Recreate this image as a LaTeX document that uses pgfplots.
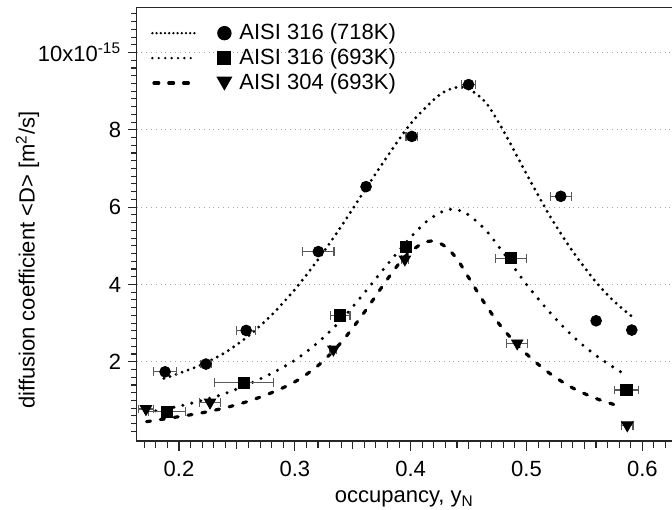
\documentclass[border=0pt]{standalone}
\usepackage{fontspec}
\setmainfont{Liberation Sans}
\usepackage{pgfplots}
\pgfplotsset{compat=1.18}
\usepackage{pgfplotstable}

\pgfplotstableread{
x y ex
0.188 1.74 0.010
0.2233 1.94 0.005
0.258 2.81 0.008
0.3203 4.85 0.0135
0.3615 6.53 0.003
0.401 7.83 0.005
0.4500 9.17 0.006
0.5296 6.28 0.009
0.5601 3.06 0
0.5909 2.82 0
}\circdata

\pgfplotstableread{
x y ex
0.1894 0.71 0.016
0.2563 1.46 0.0255
0.3391 3.20 0.0086
0.3960 4.97 0.003
0.4864 4.68 0.0134
0.5863 1.27 0.0105
}\sqdata

\pgfplotstableread{
x y ex
0.1715 0.78 0.0065
0.2268 0.95 0.009
0.3333 2.32 0.003
0.3950 4.65 0.003
0.4920 2.48 0.009
0.5870 0.36 0.005
}\tridata

\tikzset{
  cA/.style={line width=1.6pt, line cap=round, dash pattern=on 0pt off 3.2pt},
  cB/.style={line width=1.7pt, line cap=round, dash pattern=on 0pt off 4.6pt},
  cC/.style={line width=1.6pt, line cap=round, dash pattern=on 2pt off 5pt},
  tk/.style={black!85, line width=0.55pt, solid},
}

\begin{document}
\begin{tikzpicture}
\begin{axis}[
  scale only axis, width=267.65pt, height=216.85pt,
  xmin=0.1635, xmax=0.6256, ymin=-0.05, ymax=11.17,
  clip=false,
  axis line style={draw=none},
  xtick pos=bottom, ytick pos=left,
  tick align=outside,
  xtick={0.2,0.3,0.4,0.5,0.6}, xticklabels={0.2,0.3,0.4,0.5,0.6},
  ytick={2,4,6,8,10}, yticklabels={2,4,6,8,{10x10\textsuperscript{-15}}},
  every major tick/.append style={draw=none},
  every minor tick/.append style={draw=none},
  ymajorgrids, major grid style={dotted, black!35, line width=0.5pt},
  tick label style={font=\fontsize{11}{13}\selectfont},
  xticklabel style={yshift=-2.5pt},
  label style={font=\fontsize{11}{13}\selectfont},
  xlabel={occupancy, y\textsubscript{N}},
  ylabel={diffusion coefficient <D> [m\textsuperscript{2}/s]},
  ylabel style={at={(ticklabel cs:0.417)}, yshift=-7.5pt},
  legend style={draw=none, fill=none, at={(rel axis cs:0,1)}, anchor=north west,
    xshift=4pt, yshift=-5.5pt, font=\fontsize{11}{13}\selectfont, row sep=2pt,
    nodes={inner xsep=3.5pt, inner ysep=0.5pt}},
  legend cell align=left,
]
\addplot[cA, smooth, legend image code/.code={\draw[line width=1.3pt, line cap=round, dash pattern=on 0pt off 2.1pt] (0pt,0pt) -- (22pt,0pt); \fill[solid, draw=none] (36pt,0pt) circle (3.6pt);}]
 coordinates {(0.187,1.57)(0.20,1.70)(0.22,1.93)(0.24,2.24)(0.26,2.67)(0.28,3.21)(0.30,3.87)(0.32,4.64)(0.34,5.50)(0.36,6.42)(0.38,7.32)(0.40,8.16)(0.42,8.78)(0.43,9.00)(0.44,9.10)(0.45,9.06)(0.465,8.70)(0.48,7.98)(0.50,6.86)(0.52,5.78)(0.54,4.85)(0.56,4.06)(0.575,3.58)(0.591,3.17)};
\addlegendentry{AISI 316 (718K)}
\addplot[cB, smooth, legend image code/.code={\draw[line width=1.3pt, line cap=round, dash pattern=on 0pt off 3.2pt] (0pt,0pt) -- (22pt,0pt); \fill[solid, draw=none] (32.5pt,-3.5pt) rectangle (39.5pt,3.5pt);}]
 coordinates {(0.18,0.73)(0.20,0.85)(0.22,1.00)(0.24,1.18)(0.26,1.42)(0.28,1.70)(0.30,2.04)(0.32,2.50)(0.34,3.08)(0.36,3.78)(0.38,4.52)(0.40,5.22)(0.415,5.66)(0.43,5.92)(0.44,5.93)(0.45,5.80)(0.465,5.40)(0.48,4.82)(0.50,4.00)(0.52,3.28)(0.54,2.66)(0.56,2.16)(0.5823,1.72)};
\addlegendentry{AISI 316 (693K)}
\addplot[cC, smooth, legend image code/.code={\draw[line width=1.6pt, line cap=round, dash pattern=on 2.4pt off 5pt] (0.8pt,0pt) -- (22pt,0pt); \fill[solid, draw=none] (32pt,3.2pt) -- (40pt,3.2pt) -- (36pt,-3.8pt) -- cycle;}]
 coordinates {(0.172,0.45)(0.20,0.58)(0.22,0.68)(0.24,0.81)(0.26,0.98)(0.28,1.20)(0.30,1.48)(0.32,1.90)(0.34,2.50)(0.36,3.28)(0.38,4.14)(0.395,4.72)(0.41,5.06)(0.42,5.12)(0.43,4.98)(0.44,4.66)(0.45,4.18)(0.465,3.46)(0.48,2.84)(0.50,2.20)(0.52,1.70)(0.54,1.32)(0.56,1.05)(0.578,0.87)};
\addlegendentry{AISI 304 (693K)}

\pgfplotsset{ebar/.style={
  error bars/.cd, x dir=both, x explicit, error mark=|,
  error bar style={line width=0.6pt, black!65, solid},
  error mark options={line width=0.6pt, black!65, mark size=2.2pt, solid}}}
\addplot[only marks, black, forget plot, mark=*, mark size=2.7pt, ebar] table[x=x, y=y, x error=ex] {\circdata};
\addplot[only marks, black, forget plot, mark=square*, mark size=2.8pt, ebar] table[x=x, y=y, x error=ex] {\sqdata};
\addplot[only marks, black, forget plot, mark=triangle*, mark size=3.3pt, mark options={rotate=180}, ebar] table[x=x, y=y, x error=ex] {\tridata};

% axis ticks
\pgfplotsinvokeforeach{0.17,0.18,0.19,0.21,0.22,0.23,0.24,0.26,0.27,0.28,0.29,0.31,0.32,0.33,0.34,0.36,0.37,0.38,0.39,0.41,0.42,0.43,0.44,0.46,0.47,0.48,0.49,0.51,0.52,0.53,0.54,0.56,0.57,0.58,0.59,0.61,0.62}{
  \draw[tk] (axis cs:#1,-0.05) -- ++(0pt,-3.5pt);}
\pgfplotsinvokeforeach{0.25,0.35,0.45,0.55}{
  \draw[tk] (axis cs:#1,-0.05) -- ++(0pt,-4.2pt);}
\pgfplotsinvokeforeach{0.2,0.3,0.4,0.5,0.6}{
  \draw[tk] (axis cs:#1,-0.05) -- ++(0pt,-5pt);}
\pgfplotsinvokeforeach{0.2,0.4,0.6,0.8,1.0,1.2,1.4,1.6,1.8,2.2,2.4,2.6,2.8,3.0,3.2,3.4,3.6,3.8,4.2,4.4,4.6,4.8,5.0,5.2,5.4,5.6,5.8,6.2,6.4,6.6,6.8,7.0,7.2,7.4,7.6,7.8,8.2,8.4,8.6,8.8,9.0,9.2,9.4,9.6,9.8,10.2,10.4,10.6,10.8,11.0}{
  \draw[tk] (axis cs:0.1635,#1) -- ++(-2.6pt,0pt);}
\pgfplotsinvokeforeach{2,4,6,8,10}{
  \draw[tk] (axis cs:0.1635,#1) -- ++(-4.2pt,0pt);}
\end{axis}
\draw[line width=0.6pt, black!85] (current axis.north east) -- (current axis.north west) -- (current axis.south west) -- (current axis.south east);
\pgfresetboundingbox
\path[use as bounding box] ([xshift=-68.35pt,yshift=-34.5pt]current axis.south west) rectangle ([yshift=3.65pt]current axis.north east);
\end{tikzpicture}
\end{document}
